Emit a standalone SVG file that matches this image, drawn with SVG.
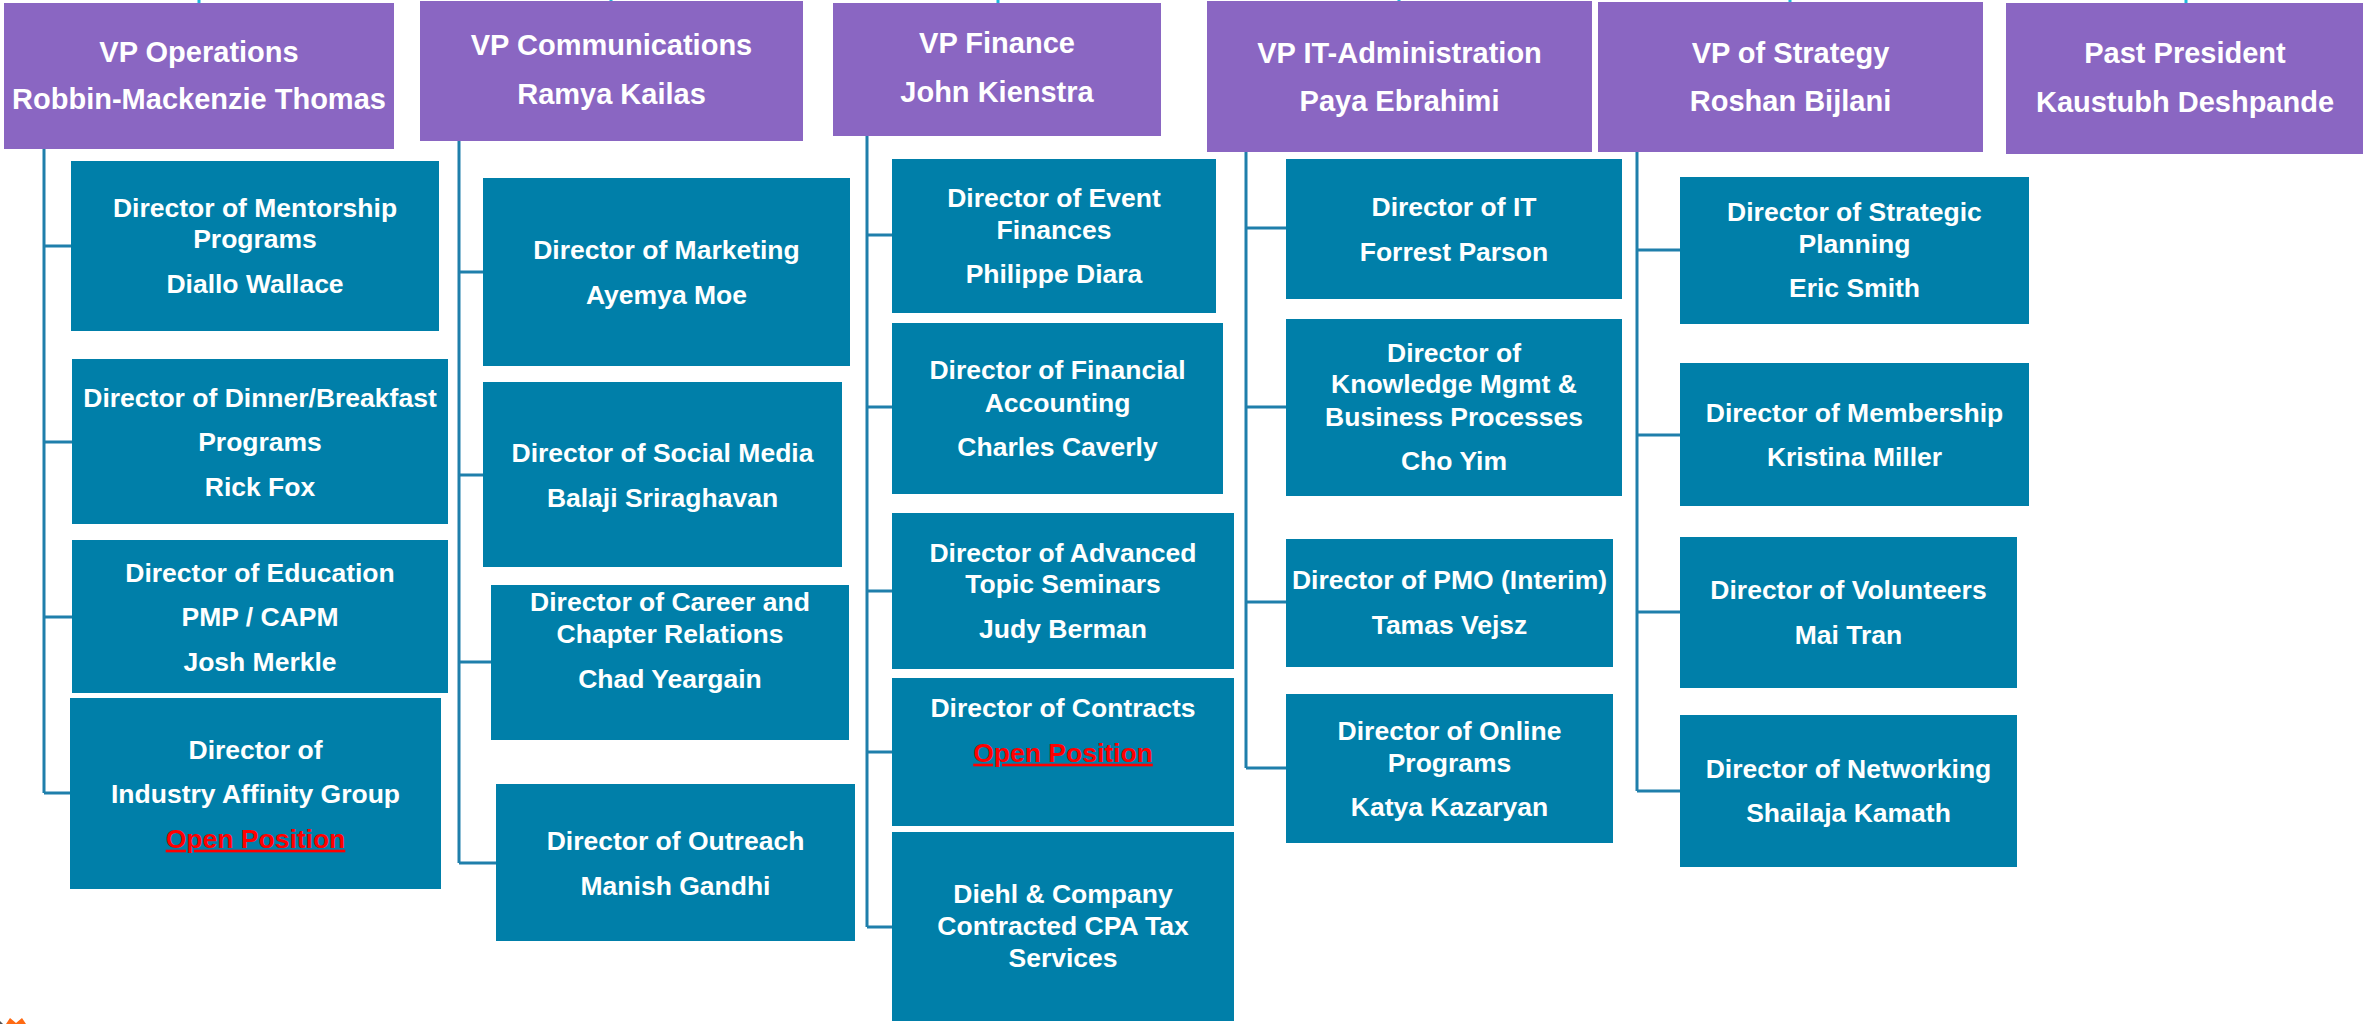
<svg xmlns="http://www.w3.org/2000/svg" width="2366" height="1024" viewBox="0 0 2366 1024">
<style>
.vp{fill:#8A66C2}
.dir{fill:#007FA9}
.t{font-family:"Liberation Sans",Arial,Helvetica,sans-serif;font-weight:bold;fill:#FFFFFF;text-anchor:middle}
.tv{font-size:29px}
.td{font-size:26.5px}
.open{fill:#FF0000;text-decoration:underline}
.conn{fill:none;stroke:#1F7FAB;stroke-width:3}
.stub{fill:none;stroke:#1FB8DC;stroke-width:3}
</style>
<rect width="2366" height="1024" fill="#FFFFFF"/>
<g id="connectors">
<path class="stub" d="M199 0V3M611 0V1M998 0V3M1399 0V1M1790 0V2M2186 0V3"/>
<path class="conn" d="M44 149V793M44 246H71M44 442H72M44 617H72M44 793H70"/>
<path class="conn" d="M459 141V863M459 272H483M459 475H483M459 662H491M459 863H496"/>
<path class="conn" d="M867 136V927M867 235H892M867 407H892M867 591H892M867 752H892M867 927H892"/>
<path class="conn" d="M1246 152V768M1246 228H1286M1246 407H1286M1246 602H1286M1246 768H1286"/>
<path class="conn" d="M1637 152V791M1637 250H1680M1637 435H1680M1637 612H1680M1637 791H1680"/>
</g>
<g id="vp-operations"><rect class="vp" x="4" y="3" width="390" height="146"/><text class="t tv" x="199" y="61.7">VP Operations</text><text class="t tv" x="199" y="109.3">Robbin-Mackenzie Thomas</text></g>
<g id="vp-communications"><rect class="vp" x="420" y="1" width="383" height="140"/><text class="t tv" x="611.5" y="55">VP Communications</text><text class="t tv" x="611.5" y="104">Ramya Kailas</text></g>
<g id="vp-finance"><rect class="vp" x="833" y="3" width="328" height="133"/><text class="t tv" x="997" y="53.3">VP Finance</text><text class="t tv" x="997" y="101.7">John Kienstra</text></g>
<g id="vp-it"><rect class="vp" x="1207" y="1" width="385" height="151"/><text class="t tv" x="1399.5" y="62.7">VP IT-Administration</text><text class="t tv" x="1399.5" y="111">Paya Ebrahimi</text></g>
<g id="vp-strategy"><rect class="vp" x="1598" y="2" width="385" height="150"/><text class="t tv" x="1790.5" y="62.7">VP of Strategy</text><text class="t tv" x="1790.5" y="110.7">Roshan Bijlani</text></g>
<g id="past-president"><rect class="vp" x="2006" y="3" width="357" height="151"/><text class="t tv" x="2185" y="63.3">Past President</text><text class="t tv" x="2185" y="112.3">Kaustubh Deshpande</text></g>

<g id="d-mentorship"><rect class="dir" x="71" y="161" width="368" height="170"/><text class="t td" x="255" y="216.7">Director of Mentorship</text><text class="t td" x="255" y="248.3">Programs</text><text class="t td" x="255" y="293.3">Diallo Wallace</text></g>
<g id="d-dinner"><rect class="dir" x="72" y="359" width="376" height="165"/><text class="t td" x="260" y="406.7">Director of Dinner/Breakfast</text><text class="t td" x="260" y="451">Programs</text><text class="t td" x="260" y="495.7">Rick Fox</text></g>
<g id="d-education"><rect class="dir" x="72" y="540" width="376" height="153"/><text class="t td" x="260" y="581.7">Director of Education</text><text class="t td" x="260" y="626">PMP / CAPM</text><text class="t td" x="260" y="670.7">Josh Merkle</text></g>
<g id="d-industry"><rect class="dir" x="70" y="698" width="371" height="191"/><text class="t td" x="255.5" y="759.3">Director of</text><text class="t td" x="255.5" y="803.3">Industry Affinity Group</text><text class="t td open" x="255.5" y="847.7">Open Position</text></g>

<g id="d-marketing"><rect class="dir" x="483" y="178" width="367" height="188"/><text class="t td" x="666.5" y="259">Director of Marketing</text><text class="t td" x="666.5" y="304">Ayemya Moe</text></g>
<g id="d-social"><rect class="dir" x="483" y="382" width="359" height="185"/><text class="t td" x="662.5" y="461.7">Director of Social Media</text><text class="t td" x="662.5" y="506.7">Balaji Sriraghavan</text></g>
<g id="d-career"><rect class="dir" x="491" y="585" width="358" height="155"/><text class="t td" x="670" y="611">Director of Career and</text><text class="t td" x="670" y="643.3">Chapter Relations</text><text class="t td" x="670" y="687.7">Chad Yeargain</text></g>
<g id="d-outreach"><rect class="dir" x="496" y="784" width="359" height="157"/><text class="t td" x="675.5" y="850">Director of Outreach</text><text class="t td" x="675.5" y="895">Manish Gandhi</text></g>

<g id="d-event"><rect class="dir" x="892" y="159" width="324" height="154"/><text class="t td" x="1054" y="206.7">Director of Event</text><text class="t td" x="1054" y="239">Finances</text><text class="t td" x="1054" y="283.3">Philippe Diara</text></g>
<g id="d-accounting"><rect class="dir" x="892" y="323" width="331" height="171"/><text class="t td" x="1057.5" y="379">Director of Financial</text><text class="t td" x="1057.5" y="411.7">Accounting</text><text class="t td" x="1057.5" y="455.7">Charles Caverly</text></g>
<g id="d-advanced"><rect class="dir" x="892" y="513" width="342" height="156"/><text class="t td" x="1063" y="561.7">Director of Advanced</text><text class="t td" x="1063" y="593.3">Topic Seminars</text><text class="t td" x="1063" y="638.3">Judy Berman</text></g>
<g id="d-contracts"><rect class="dir" x="892" y="678" width="342" height="148"/><text class="t td" x="1063" y="716.7">Director of Contracts</text><text class="t td open" x="1063" y="761.7">Open Position</text></g>
<g id="d-diehl"><rect class="dir" x="892" y="832" width="342" height="189"/><text class="t td" x="1063" y="903.3">Diehl &amp; Company</text><text class="t td" x="1063" y="935">Contracted CPA Tax</text><text class="t td" x="1063" y="966.7">Services</text></g>

<g id="d-it"><rect class="dir" x="1286" y="159" width="336" height="140"/><text class="t td" x="1454" y="216">Director of IT</text><text class="t td" x="1454" y="261">Forrest Parson</text></g>
<g id="d-knowledge"><rect class="dir" x="1286" y="319" width="336" height="177"/><text class="t td" x="1454" y="361.7">Director of</text><text class="t td" x="1454" y="393.3">Knowledge Mgmt &amp;</text><text class="t td" x="1454" y="425.7">Business Processes</text><text class="t td" x="1454" y="470">Cho Yim</text></g>
<g id="d-pmo"><rect class="dir" x="1286" y="539" width="327" height="128"/><text class="t td" x="1449.5" y="589.3">Director of PMO (Interim)</text><text class="t td" x="1449.5" y="634.3">Tamas Vejsz</text></g>
<g id="d-online"><rect class="dir" x="1286" y="694" width="327" height="149"/><text class="t td" x="1449.5" y="740">Director of Online</text><text class="t td" x="1449.5" y="771.7">Programs</text><text class="t td" x="1449.5" y="816">Katya Kazaryan</text></g>

<g id="d-strategic"><rect class="dir" x="1680" y="177" width="349" height="147"/><text class="t td" x="1854.5" y="220.7">Director of Strategic</text><text class="t td" x="1854.5" y="252.7">Planning</text><text class="t td" x="1854.5" y="297.3">Eric Smith</text></g>
<g id="d-membership"><rect class="dir" x="1680" y="363" width="349" height="143"/><text class="t td" x="1854.5" y="421.7">Director of Membership</text><text class="t td" x="1854.5" y="465.7">Kristina Miller</text></g>
<g id="d-volunteers"><rect class="dir" x="1680" y="537" width="337" height="151"/><text class="t td" x="1848.5" y="599.3">Director of Volunteers</text><text class="t td" x="1848.5" y="644">Mai Tran</text></g>
<g id="d-networking"><rect class="dir" x="1680" y="715" width="337" height="152"/><text class="t td" x="1848.5" y="777.7">Director of Networking</text><text class="t td" x="1848.5" y="822.3">Shailaja Kamath</text></g>

<polygon points="6,1024 10,1018 16,1023 22,1018 26,1024" fill="#FF6A13"/>
<polygon points="0,1021 3,1024 0,1024" fill="#555555"/>
</svg>
